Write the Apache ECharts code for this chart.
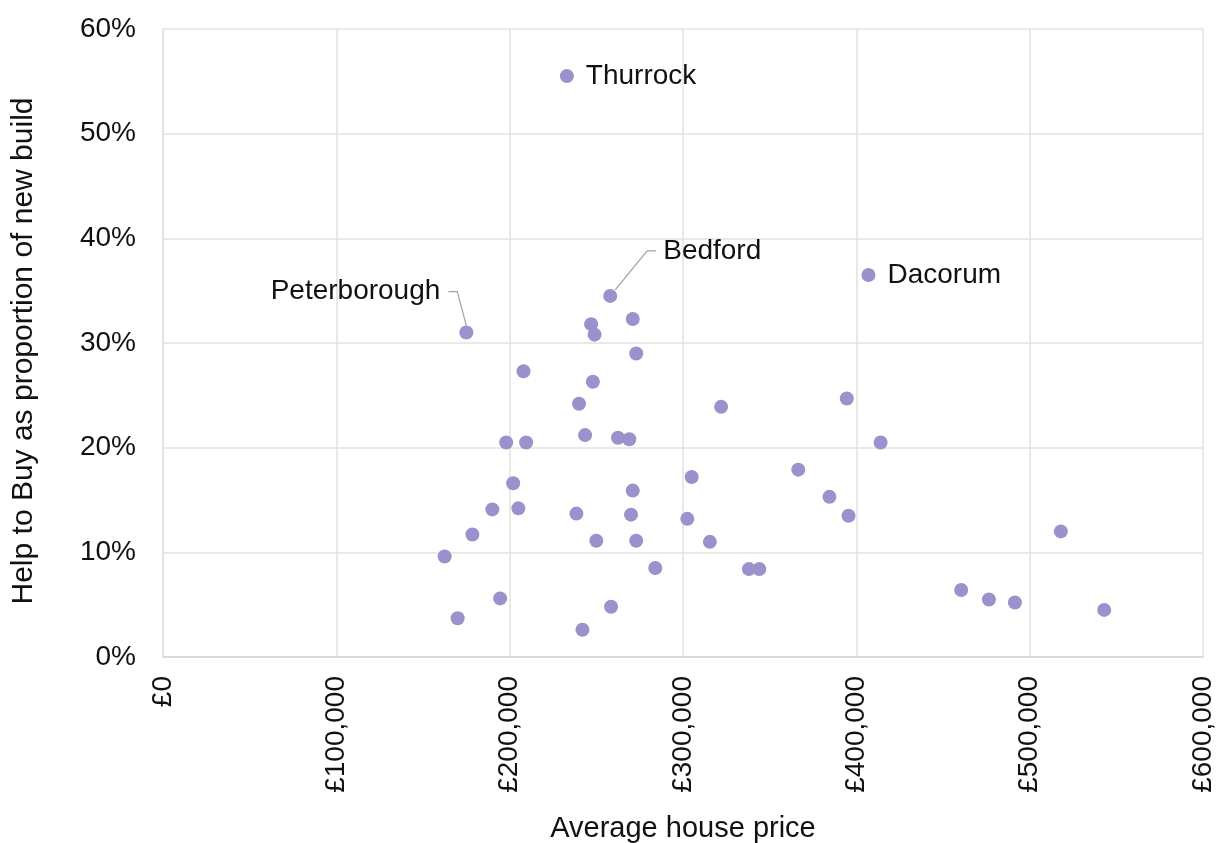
<!DOCTYPE html>
<html>
<head>
<meta charset="utf-8">
<script src="https://cdn.jsdelivr.net/npm/echarts@6/dist/echarts.min.js"></script>
<style>
html,body{margin:0;padding:0;background:#fff;}
#chart{width:1219px;height:843px;}
</style>
</head>
<body>
<div id="chart"></div>
<script>
// Average house price (£)
var prices = [233000, 258000, 407000, 175000, 247000, 249000, 271000, 273000, 208000, 248000,
  240000, 322000, 243500, 262500, 269000, 198000, 209500, 305000, 202000, 271000,
  190000, 205000, 238500, 270000, 302500, 178500, 250000, 273000, 315500, 162500,
  284000, 338000, 344000, 194500, 258500, 170000, 242000, 394500, 414000, 366500,
  384500, 395500, 518000, 460500, 476500, 491500, 543000];
// Help to Buy as proportion of new build (%)
var shares = [55.5, 34.5, 36.5, 31.0, 31.8, 30.8, 32.3, 29.0, 27.3, 26.3,
  24.2, 23.9, 21.2, 20.95, 20.8, 20.5, 20.5, 17.2, 16.6, 15.9,
  14.1, 14.2, 13.7, 13.6, 13.2, 11.7, 11.1, 11.1, 11.0, 9.6,
  8.5, 8.4, 8.4, 5.6, 4.8, 3.7, 2.6, 24.7, 20.5, 17.9,
  15.3, 13.5, 12.0, 6.4, 5.5, 5.2, 4.5];
var names = ['Thurrock', 'Bedford', 'Dacorum', 'Peterborough'];
var xTicks = [0, 100000, 200000, 300000, 400000, 500000, 600000];
var yTicks = [0, 10, 20, 30, 40, 50, 60];

var FONT = 'Liberation Sans, Arial, sans-serif';
var labelCfg = {
  Thurrock: {position: 'right', distance: 12},
  Dacorum: {position: 'right', distance: 12},
  Bedford: {position: 'right', distance: 5},
  Peterborough: {position: 'left', distance: 5}
};
var shift = {
  Bedford: {dx: 41, dy: -45},
  Peterborough: {dx: -14, dy: -41}
};
// leader-line shapes, pixel offsets from the marker centre
var leaders = {
  Bedford: [[5, -6], [37, -45], [46, -45]],
  Peterborough: [[0, -7], [-9, -41], [-18, -41]]
};

var data = prices.map(function (p, i) {
  var nm = names[i] || '';
  var item = {name: nm, value: [p, shares[i]]};
  if (nm) {
    var c = labelCfg[nm];
    item.label = {show: true, position: c.position, distance: c.distance,
      formatter: '{b}', color: '#111', fontSize: 28, fontFamily: FONT};
  }
  return item;
});

var leaderData = [];
prices.forEach(function (p, i) {
  var nm = names[i];
  if (nm && leaders[nm]) leaderData.push({name: nm, value: [p, shares[i]]});
});

var chart = echarts.init(document.getElementById('chart'), null, {renderer: 'canvas'});
chart.setOption({
  animation: false,
  grid: {left: 163, right: 16, top: 29, bottom: 186, containLabel: false, outerBoundsMode: 'none'},
  xAxis: {
    type: 'value', min: 0, max: 600000, interval: 100000,
    name: 'Average house price', nameLocation: 'middle', nameGap: 157,
    nameTextStyle: {fontSize: 29, fontFamily: FONT, color: '#111'},
    axisLine: {show: true, lineStyle: {color: '#d9d3cf', width: 1.5}},
    axisTick: {show: false},
    splitLine: {show: true, lineStyle: {color: '#e6e1de', width: 1.5}},
    axisLabel: {
      rotate: 90, margin: 19, fontSize: 28, fontFamily: FONT, color: '#111',
      formatter: function (v) { return '£' + v.toLocaleString('en-GB'); }
    }
  },
  yAxis: {
    type: 'value', min: 0, max: 60, interval: 10,
    name: 'Help to Buy as proportion of new build', nameLocation: 'middle', nameGap: 124,
    nameTextStyle: {fontSize: 30, fontFamily: FONT, color: '#111', padding: [0, 0, 0, -16]},
    axisLine: {show: true, lineStyle: {color: '#e6e1de', width: 1.5}},
    axisTick: {show: false},
    splitLine: {show: true, lineStyle: {color: '#e6e1de', width: 1.5}},
    axisLabel: {margin: 27, fontSize: 28, fontFamily: FONT, color: '#111', formatter: '{value}%'}
  },
  series: [{
    type: 'custom',
    silent: true,
    z: 1,
    data: leaderData,
    renderItem: function (params, api) {
      var c = api.coord([api.value(0), api.value(1)]);
      var nm = leaderData[params.dataIndex].name;
      var pts = leaders[nm].map(function (o) { return [c[0] + o[0], c[1] + o[1]]; });
      return {
        type: 'polyline',
        shape: {points: pts},
        style: {stroke: '#a89f98', lineWidth: 1.2, fill: null}
      };
    }
  }, {
    type: 'scatter',
    symbol: 'circle',
    symbolSize: 14,
    z: 2,
    itemStyle: {color: '#9c90cd', opacity: 1},
    label: {show: false},
    labelLayout: function (params) {
      var nm = names[params.dataIndex];
      if (nm && shift[nm]) {
        return {dx: shift[nm].dx, dy: shift[nm].dy};
      }
      return {};
    },
    data: data
  }]
});
</script>
</body>
</html>
